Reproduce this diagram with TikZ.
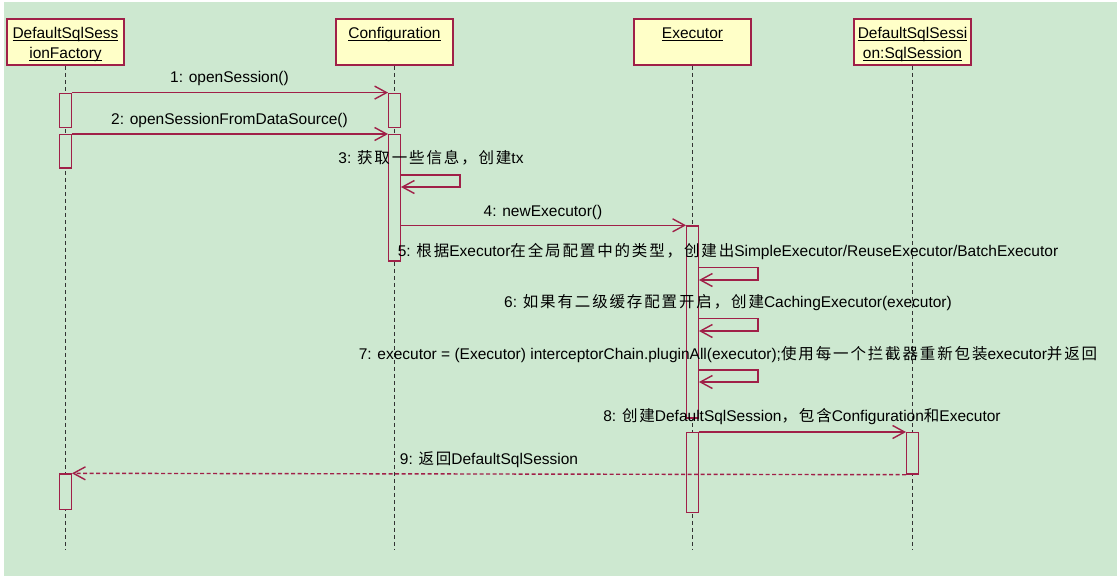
\documentclass[tikz,border=0pt]{standalone}
\usepackage{fontspec}
\setmainfont{Liberation Sans}
\newfontfamily\cjk[LetterSpace=12]{Noto Sans CJK SC}
\usetikzlibrary{arrows.meta}
\definecolor{bg}{RGB}{205,232,208}
\definecolor{mar}{RGB}{160,32,72}
\definecolor{boxfill}{RGB}{255,255,200}
\definecolor{life}{RGB}{50,50,50}
\newcommand\zh[1]{{\cjk #1}}
\newcommand\lblfont{\fontsize{15.5}{18}\selectfont}
\newsavebox\ulbox
\newcommand\ul[1]{\sbox\ulbox{#1}\rlap{\rule[-2.6pt]{\wd\ulbox}{1pt}}\usebox\ulbox}
\newcommand\actbar[4]{\node[actbox, minimum height={(#4-#3)*1pt}] (#1) at (#2,{(#3+#4)/2}) {};}
\begin{document}
\begin{tikzpicture}[x=1pt,y=-1pt,
  lbl/.style={font=\lblfont, inner sep=0pt, anchor=base, text=black},
  objbox/.style={draw=mar, line width=1.6pt, fill=boxfill, minimum width=117pt, minimum height=46pt, inner sep=0pt},
  actbox/.style={draw=mar, line width=1.4pt, fill=bg, minimum width=11.5pt, inner sep=0pt},
  lifeln/.style={draw=life, line width=1.1pt, dash pattern=on 4pt off 3pt},
  msg/.style={draw=mar, line width=1.4pt, -{Straight Barb[length=12pt,width=13pt]}},
  ret/.style={msg, dash pattern=on 4pt off 2.5pt}]
\fill[white] (0,0) rectangle (1120,579);
\fill[bg] (4,2) rectangle (1117,576);
\useasboundingbox (0,0) rectangle (1120,579);

% objects
\node[objbox] (f) at (65.5,42) {};
\node[objbox] (c) at (394.5,42) {};
\node[objbox] (e) at (692.5,42) {};
\node[objbox] (d) at (912.5,42) {};
\node[lbl] (ft1) at (65.5,38.5) {\ul{DefaultSqlSess}};
\node[lbl] (ft2) at (65.5,58.5) {\ul{ionFactory}};
\node[lbl] (ct) at (394.5,38.5) {\ul{Configuration}};
\node[lbl] (et) at (692.5,38.5) {\ul{Executor}};
\node[lbl] (dt1) at (912.5,38.5) {\ul{DefaultSqlSessi}};
\node[lbl] (dt2) at (912.5,58.5) {\ul{on:SqlSession}};

% lifelines
\coordinate (fL) at (65.5,549);
\coordinate (cL) at (394.5,549);
\coordinate (eL) at (692.5,549);
\coordinate (dL) at (912.5,549);
\draw[lifeln] (f.south) -- (fL);
\draw[lifeln] (c.south) -- (cL);
\draw[lifeln] (e.south) -- (eL);
\draw[lifeln] (d.south) -- (dL);

% activation bars
\actbar{fb1}{65.5}{93.3}{127.7}
\actbar{fb2}{65.5}{134.7}{168}
\actbar{fb3}{65.5}{474}{509.3}
\actbar{cb1}{394.5}{93.3}{127.7}
\actbar{cb2}{394.5}{134.7}{261}
\actbar{eb1}{692.5}{226}{418}
\actbar{eb2}{692.5}{432.7}{512.7}
\actbar{db}{912.5}{432.7}{474}

% messages
\draw[msg] (fb1.north east) -- (cb1.north west);
\draw[msg] (fb2.north east) -- (cb2.north west);
\coordinate (l3a) at (460,175);
\coordinate (l3b) at (460,187);
\draw[msg] (cb2.east |- l3a) -- (l3a) -- (l3b) -- (cb2.east |- l3b);
\draw[msg] (cb2.east |- eb1.north) -- (eb1.north west);
\coordinate (l5a) at (758,267.7);
\coordinate (l5b) at (758,280);
\draw[msg] (eb1.east |- l5a) -- (l5a) -- (l5b) -- (eb1.east |- l5b);
\coordinate (l6a) at (758,318.5);
\coordinate (l6b) at (758,331);
\draw[msg] (eb1.east |- l6a) -- (l6a) -- (l6b) -- (eb1.east |- l6b);
\coordinate (l7a) at (758,370);
\coordinate (l7b) at (758,382);
\draw[msg] (eb1.east |- l7a) -- (l7a) -- (l7b) -- (eb1.east |- l7b);
\draw[msg] (eb2.north east) -- (db.north west);
\draw[ret] (db.south west) -- (fb3.north east);

% labels
\node[lbl] (m1) at (229.5,82) {1: openSession()};
\node[lbl] (m2) at (229.5,124) {2: openSessionFromDataSource()};
\node[lbl] (m3) at (431,163.5) {3: \zh{获取一些信息，创建}tx};
\node[lbl] (m4) at (543,216.5) {4: newExecutor()};
\node[lbl] (m5) at (728,256) {5: \zh{根据}Executor\zh{在全局配置中的类型，创建出}SimpleExecutor/ReuseExecutor/BatchExecutor};
\node[lbl] (m6) at (728,307) {6: \zh{如果有二级缓存配置开启，创建}CachingExecutor(executor)};
\node[lbl] (m7) at (728,359) {7: executor = (Executor) interceptorChain.pluginAll(executor);\zh{使用每一个拦截器重新包装}executor\zh{并返回}};
\node[lbl] (m8) at (802,421.5) {8: \zh{创建}DefaultSqlSession\zh{，包含}Configuration\zh{和}Executor};
\node[lbl] (m9) at (489,464) {9: \zh{返回}DefaultSqlSession};
\end{tikzpicture}
\end{document}
